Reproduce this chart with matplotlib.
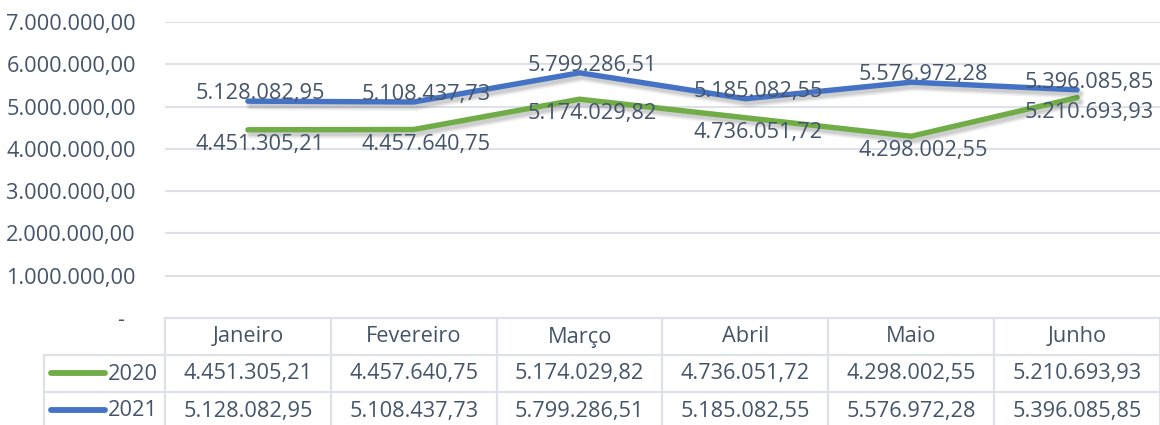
import matplotlib
matplotlib.use("Agg")
import matplotlib.pyplot as plt
import matplotlib.patheffects as pe
from matplotlib.transforms import blended_transform_factory

months = ["Janeiro", "Fevereiro", "Março", "Abril", "Maio", "Junho"]
years = ["2020", "2021"]
v2020 = [4451305.21, 4457640.75, 5174029.82, 4736051.72, 4298002.55, 5210693.93]
v2021 = [5128082.95, 5108437.73, 5799286.51, 5185082.55, 5576972.28, 5396085.85]
yticks = [0, 1000000, 2000000, 3000000, 4000000, 5000000, 6000000, 7000000]

GREEN = "#70AD47"
BLUE = "#4472C4"
TXT = "#44546A"
GRID = "#DEE2E8"
FONT = "Open Sans"
FS = 15.7

plt.rcParams['font.family'] = [FONT, 'DejaVu Sans']


def fmt(v):
    s = f"{v:,.2f}"
    return s.replace(",", "X").replace(".", ",").replace("X", ".")


fig = plt.figure(figsize=(11.6, 4.25), dpi=100)
W, H = 1160, 425
ax = fig.add_axes([165 / W, 1 - 318 / H, 1 - 165 / W, (318 - 22) / H])
ax.set_xlim(-0.5, len(months) - 0.5)
ax.set_ylim(0, 7000000)
ax.set_yticks(yticks)
ax.set_yticklabels(["-  " if t == 0 else fmt(t) for t in yticks], fontsize=FS, color=TXT)
ax.tick_params(axis='y', length=0, pad=21)
ax.set_xticks([])
for s in ax.spines.values():
    s.set_visible(False)
for t in yticks[1:]:
    ax.axhline(t, color=GRID, lw=1.5, zorder=0)

x = list(range(len(months)))
shadow = [pe.Stroke(offset=(2, -3), linewidth=7, foreground="black", alpha=0.05),
          pe.Stroke(offset=(2, -3), linewidth=5, foreground="black", alpha=0.07),
          pe.Stroke(offset=(2, -3), linewidth=3, foreground="black", alpha=0.08),
          pe.Normal()]
for vals, col in [(v2020, GREEN), (v2021, BLUE)]:
    ax.plot(x, vals, color=col, lw=3.9, solid_capstyle='round', solid_joinstyle='round',
            path_effects=shadow, zorder=3)

for i, v in enumerate(v2021):
    ax.annotate(fmt(v), (i, v), xytext=(9, 5.5), textcoords='offset points',
                ha='center', va='center', fontsize=FS, color=TXT, zorder=4)
for i, v in enumerate(v2020):
    ax.annotate(fmt(v), (i, v), xytext=(9, -10.5), textcoords='offset points',
                ha='center', va='center', fontsize=FS, color=TXT, zorder=4)

# data table
tr = blended_transform_factory(ax.transData, ax.transAxes)
ax_h = 318 - 22


def yax(py):
    return -(py - 318) / ax_h


lw_t = 1.6
ax.plot([-0.5, 5.5], [yax(318)] * 2, transform=tr, color=GRID, lw=lw_t, clip_on=False)
leg_left = 44
fig.add_artist(plt.Line2D([leg_left / W, 1], [1 - 355 / H] * 2, color=GRID, lw=lw_t))
fig.add_artist(plt.Line2D([leg_left / W, 1], [1 - 392 / H] * 2, color=GRID, lw=lw_t))
fig.add_artist(plt.Line2D([leg_left / W, leg_left / W], [1 - 355 / H, 0], color=GRID, lw=lw_t))
for b in range(len(months) + 1):
    ax.plot([b - 0.5, b - 0.5], [yax(318), yax(440)], transform=tr, color=GRID, lw=lw_t, clip_on=False)

for i, m in enumerate(months):
    ax.text(i, yax(337), m, transform=tr, ha='center', va='center', fontsize=FS, color=TXT)
    ax.text(i, yax(374), fmt(v2020[i]), transform=tr, ha='center', va='center', fontsize=FS, color=TXT)
    ax.text(i, yax(411), fmt(v2021[i]), transform=tr, ha='center', va='center', fontsize=FS, color=TXT)

for yr, col, py in [(years[0], GREEN, 374), (years[1], BLUE, 411)]:
    fig.add_artist(plt.Line2D([51 / W, 105 / W], [1 - (py - 1) / H] * 2, color=col, lw=4.2,
                              solid_capstyle='round'))
    fig.text(108 / W, 1 - py / H, yr, ha='left', va='center', fontsize=FS, color=TXT)

fig.savefig("out.png", dpi=100)
